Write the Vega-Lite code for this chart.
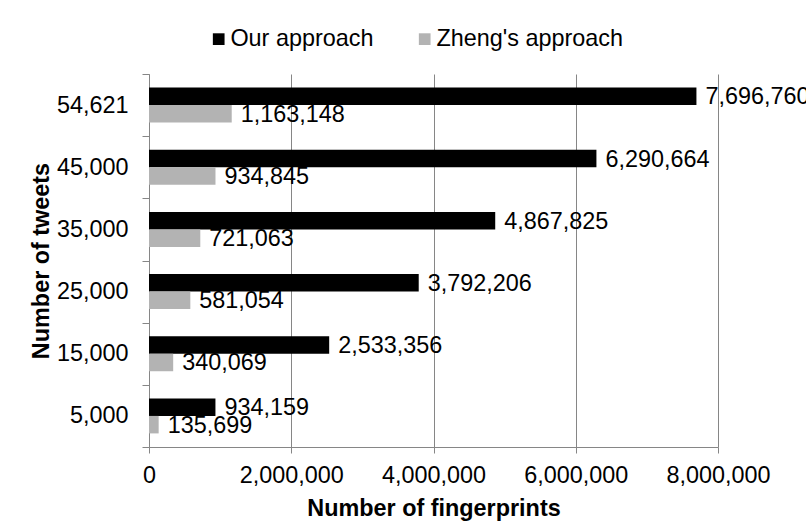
{
  "$schema": "https://vega.github.io/schema/vega-lite/v6.json",
  "width": 569,
  "height": 373,
  "autosize": {"type": "none"},
  "padding": {"left": 149, "top": 74, "right": 88, "bottom": 74},
  "background": "white",
  "config": {
    "view": {"stroke": null},
    "font": "Liberation Sans",
    "axis": {
      "labelFont": "Liberation Sans",
      "labelFontSize": 23.4,
      "labelColor": "#000000",
      "titleFont": "Liberation Sans",
      "titleFontSize": 23.4,
      "titleFontWeight": "bold",
      "titleColor": "#000000",
      "domainColor": "#868686",
      "tickColor": "#868686",
      "gridColor": "#868686",
      "domainWidth": 1,
      "tickWidth": 1,
      "gridWidth": 1
    },
    "legend": {
      "labelFont": "Liberation Sans",
      "labelFontSize": 23.4,
      "labelColor": "#000000",
      "labelLimit": 400
    }
  },
  "data": {
    "values": [
      {"tweets": "54,621", "approach": "Our approach", "value": 7696760},
      {"tweets": "54,621", "approach": "Zheng's approach", "value": 1163148},
      {"tweets": "45,000", "approach": "Our approach", "value": 6290664},
      {"tweets": "45,000", "approach": "Zheng's approach", "value": 934845},
      {"tweets": "35,000", "approach": "Our approach", "value": 4867825},
      {"tweets": "35,000", "approach": "Zheng's approach", "value": 721063},
      {"tweets": "25,000", "approach": "Our approach", "value": 3792206},
      {"tweets": "25,000", "approach": "Zheng's approach", "value": 581054},
      {"tweets": "15,000", "approach": "Our approach", "value": 2533356},
      {"tweets": "15,000", "approach": "Zheng's approach", "value": 340069},
      {"tweets": "5,000", "approach": "Our approach", "value": 934159},
      {"tweets": "5,000", "approach": "Zheng's approach", "value": 135699}
    ]
  },
  "encoding": {
    "y": {
      "field": "tweets",
      "type": "ordinal",
      "sort": ["54,621", "45,000", "35,000", "25,000", "15,000", "5,000"],
      "scale": {"paddingInner": 0, "paddingOuter": 0},
      "axis": {
        "title": "Number of tweets",
        "tickBand": "extent",
        "tickSize": 7,
        "labelPadding": 14,
        "titleX": -101,
        "titleY": 186.5,
        "titleAngle": -90,
        "titleBaseline": "alphabetic",
        "titleAlign": "center",
        "grid": false
      }
    },
    "yOffset": {
      "field": "approach",
      "type": "nominal",
      "sort": ["Our approach", "Zheng's approach"],
      "scale": {"paddingInner": 0, "paddingOuter": 0.777}
    },
    "x": {
      "field": "value",
      "type": "quantitative",
      "scale": {"domain": [0, 8000000], "nice": false, "zero": true},
      "axis": {
        "title": "Number of fingerprints",
        "values": [0, 2000000, 4000000, 6000000, 8000000],
        "format": ",d",
        "tickSize": 6,
        "labelPadding": 11,
        "titleY": 68,
        "titleX": 284.5,
        "titleBaseline": "alphabetic",
        "titleAlign": "center",
        "grid": true,
        "labelFlush": false,
        "labelOverlap": false
      }
    }
  },
  "layer": [
    {
      "mark": {"type": "bar"},
      "encoding": {
        "color": {
          "field": "approach",
          "type": "nominal",
          "sort": ["Our approach", "Zheng's approach"],
          "scale": {"domain": ["Our approach", "Zheng's approach"], "range": ["#000000", "#b3b3b3"]},
          "legend": {
            "title": null,
            "orient": "none",
            "direction": "horizontal",
            "legendX": 58,
            "legendY": -47,
            "symbolType": "square",
            "symbolSize": 137,
            "symbolStrokeWidth": 0,
            "labelOffset": 0,
            "columnPadding": 39,
            "padding": 0
          }
        }
      }
    },
    {
      "mark": {
        "type": "text",
        "align": "left",
        "baseline": "middle",
        "dx": 9,
        "dy": 1,
        "fontSize": 23.4,
        "font": "Liberation Sans",
        "color": "#000000"
      },
      "encoding": {
        "text": {"field": "value", "type": "quantitative", "format": ",d"}
      }
    }
  ]
}
